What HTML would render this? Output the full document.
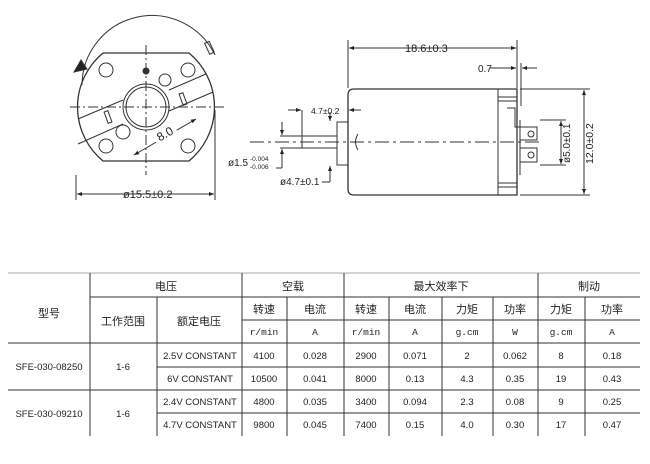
<!DOCTYPE html>
<html><head><meta charset="utf-8"><style>
html,body{margin:0;padding:0;background:#fff;}
body{width:650px;height:464px;position:relative;overflow:hidden;font-family:"Liberation Sans","Noto Sans CJK SC",sans-serif;}
svg{position:absolute;left:0;top:0;}
.t{font-size:9.5px;fill:#222;}
.c{font-size:11px;fill:#222;text-anchor:middle;}
.m{font-family:"Liberation Mono",monospace;font-size:9.5px;fill:#222;text-anchor:middle;}
.n{font-size:9.5px;fill:#222;text-anchor:middle;}
</style></head><body>
<svg width="650" height="464" viewBox="0 0 650 464">
<defs><marker id="a" viewBox="0 0 10 10" refX="10" refY="5" markerWidth="7" markerHeight="5" orient="auto-start-reverse"><path d="M0,1 L10,5 L0,9z" fill="#222"/></marker></defs>
<g stroke="#333" fill="none" stroke-width="1">
<path d="M103,53 L189,53 A70,70 0 0 1 189,161 L103,161 A70,70 0 0 1 103,53" stroke-width="1.3"/>
<path d="M82,85 A70,70 0 0 1 215,55" />
<path d="M81,60 L74,72 L87,69z" fill="#222"/>
<rect x="207" y="42" width="5" height="12" transform="rotate(-25 209 48)"/>
<line x1="70" y1="107" x2="225" y2="107" stroke-dasharray="10,3,2,3"/>
<line x1="146" y1="45" x2="146" y2="175" stroke-dasharray="10,3,2,3"/>
<circle cx="146" cy="107" r="23"/><circle cx="146" cy="107" r="20"/>
<path d="M78,119 L123,100 M78,144 L123,124 M169,111 L213,92 M169,90 L206,74"/>
<circle cx="106" cy="70" r="7"/><circle cx="188" cy="70" r="7"/><circle cx="106" cy="146" r="7"/><circle cx="188" cy="146" r="7"/>
<circle cx="165" cy="80" r="6"/><circle cx="123" cy="132" r="7"/>
<circle cx="146" cy="71" r="3" fill="#333"/>
<rect x="181" y="93" width="4" height="12" transform="rotate(-20 183 99)"/>
<rect x="106" y="111" width="4" height="12" transform="rotate(-20 108 117)"/>
<line x1="134" y1="155" x2="196" y2="119" marker-start="url(#a)" marker-end="url(#a)"/>
<line x1="76" y1="175" x2="76" y2="200"/><line x1="215" y1="110" x2="215" y2="200"/>
<line x1="77" y1="194" x2="214" y2="194" marker-start="url(#a)" marker-end="url(#a)"/>
<path d="M354,89 L517,89 L517,195 L354,195 Q348,195 348,189 L348,95 Q348,89 354,89z" stroke-width="1.3"/>
<line x1="498" y1="89" x2="498" y2="195"/>
<path d="M498,97 L517,97 M498,101 L517,101 M498,183 L517,183 M498,187 L517,187"/>
<rect x="337" y="122" width="11" height="43"/>
<line x1="280" y1="136" x2="337" y2="136"/><line x1="280" y1="148" x2="337" y2="148"/>
<path d="M358,134 Q353,142 358,150"/>
<line x1="250" y1="142" x2="540" y2="142" stroke-dasharray="14,4,3,4"/>
<path d="M507,108 L515,108 L515,127 L537,127 L537,140 L520,140 L520,127 M520,148 L537,148 L537,162 L520,162z"/>
<circle cx="531" cy="134" r="3"/><circle cx="531" cy="155" r="3"/>
<line x1="520" y1="120" x2="520" y2="175"/>
<line x1="348" y1="40" x2="348" y2="88"/><line x1="517" y1="40" x2="517" y2="88"/>
<line x1="349" y1="48" x2="516" y2="48" marker-start="url(#a)" marker-end="url(#a)"/>
<line x1="521" y1="63" x2="521" y2="106"/>
<line x1="490" y1="68" x2="516" y2="68" marker-end="url(#a)"/><line x1="537" y1="68" x2="522" y2="68" marker-end="url(#a)"/>
<line x1="520" y1="89" x2="590" y2="89"/><line x1="520" y1="195" x2="590" y2="195"/>
<line x1="584" y1="90" x2="584" y2="194" marker-start="url(#a)" marker-end="url(#a)"/>
<line x1="540" y1="120" x2="566" y2="120"/><line x1="540" y1="165" x2="566" y2="165"/>
<line x1="561" y1="121" x2="561" y2="164" marker-start="url(#a)" marker-end="url(#a)"/>
<line x1="302" y1="110" x2="302" y2="148"/>
<line x1="288" y1="110" x2="301" y2="110" marker-end="url(#a)"/><line x1="361" y1="110" x2="349" y2="110" marker-end="url(#a)"/>
<line x1="282" y1="122" x2="282" y2="135" marker-end="url(#a)"/><line x1="282" y1="162" x2="282" y2="149" marker-end="url(#a)"/>
<line x1="282" y1="162" x2="282" y2="168"/><line x1="276" y1="168" x2="282" y2="168"/>
<line x1="330" y1="112" x2="330" y2="121" marker-end="url(#a)"/><line x1="330" y1="176" x2="330" y2="166" marker-end="url(#a)"/>
<line x1="330" y1="176" x2="330" y2="182"/><line x1="322" y1="182" x2="330" y2="182"/>
</g>
<rect x="153" y="127" width="24" height="14" fill="#fff" transform="rotate(-30 165 134)"/>
<g class="t">
<text x="165" y="138" text-anchor="middle" transform="rotate(-30 165 134)" font-size="12">8.0</text>
<text x="123" y="198" font-size="11">ø15.5±0.2</text>
<text x="405" y="52" font-size="11">18.6±0.3</text>
<text x="478" y="72" font-size="10">0.7</text>
<text x="311" y="114" font-size="8.5">4.7±0.2</text>
<text x="228" y="166" font-size="10">ø1.5</text><text x="250" y="161" font-size="6.5">-0.004</text><text x="250" y="169" font-size="6.5">-0.006</text>
<text x="280" y="185" font-size="10">ø4.7±0.1</text>
<text transform="translate(570 163) rotate(-90)" font-size="10">ø5.0±0.1</text>
<text transform="translate(593 164) rotate(-90)" font-size="10.5">12.0±0.2</text>
</g>
<g stroke="#333" stroke-width="1" fill="none">
<line x1="8" y1="273" x2="640" y2="273" stroke="#aaa"/>
<line x1="90" y1="273" x2="90" y2="436"/><line x1="242" y1="273" x2="242" y2="436"/><line x1="344" y1="273" x2="344" y2="436"/><line x1="538" y1="273" x2="538" y2="436"/>
<line x1="157" y1="297" x2="157" y2="436"/>
<line x1="287" y1="297" x2="287" y2="436"/><line x1="389" y1="297" x2="389" y2="436"/><line x1="442" y1="297" x2="442" y2="436"/><line x1="493" y1="297" x2="493" y2="436"/><line x1="585" y1="297" x2="585" y2="436"/>
<line x1="90" y1="297" x2="640" y2="297"/>
<line x1="242" y1="320" x2="640" y2="320"/>
<line x1="8" y1="343" x2="640" y2="343"/>
<line x1="157" y1="367" x2="640" y2="367"/>
<line x1="8" y1="390" x2="640" y2="390"/>
<line x1="157" y1="413" x2="640" y2="413"/>
</g>
<g>
<text class="c" x="49" y="317">型号</text>
<text class="c" x="166" y="290">电压</text><text class="c" x="293" y="290">空载</text><text class="c" x="441" y="290">最大效率下</text><text class="c" x="589" y="290">制动</text>
<text class="c" x="123" y="325">工作范围</text><text class="c" x="199" y="325">额定电压</text>
<text class="c" x="264" y="313">转速</text><text class="c" x="315" y="313">电流</text><text class="c" x="366" y="313">转速</text><text class="c" x="415" y="313">电流</text><text class="c" x="467" y="313">力矩</text><text class="c" x="515" y="313">功率</text><text class="c" x="561" y="313">力矩</text><text class="c" x="612" y="313">功率</text>
<text class="m" x="264" y="335">r/min</text><text class="m" x="315" y="335">A</text><text class="m" x="366" y="335">r/min</text><text class="m" x="415" y="335">A</text><text class="m" x="467" y="335">g.cm</text><text class="m" x="515" y="335">W</text><text class="m" x="561" y="335">g.cm</text><text class="m" x="612" y="335">A</text>
<text class="n" x="49" y="370">SFE-030-08250</text><text class="n" x="123" y="370">1-6</text>
<text class="n" x="49" y="417">SFE-030-09210</text><text class="n" x="123" y="417">1-6</text>
</g>
<g class="n">
<text x="200" y="359">2.5V CONSTANT</text><text x="264" y="359">4100</text><text x="315" y="359">0.028</text><text x="366" y="359">2900</text><text x="415" y="359">0.071</text><text x="467" y="359">2</text><text x="515" y="359">0.062</text><text x="561" y="359">8</text><text x="612" y="359">0.18</text>
<text x="200" y="382">6V CONSTANT</text><text x="264" y="382">10500</text><text x="315" y="382">0.041</text><text x="366" y="382">8000</text><text x="415" y="382">0.13</text><text x="467" y="382">4.3</text><text x="515" y="382">0.35</text><text x="561" y="382">19</text><text x="612" y="382">0.43</text>
<text x="200" y="405">2.4V CONSTANT</text><text x="264" y="405">4800</text><text x="315" y="405">0.035</text><text x="366" y="405">3400</text><text x="415" y="405">0.094</text><text x="467" y="405">2.3</text><text x="515" y="405">0.08</text><text x="561" y="405">9</text><text x="612" y="405">0.25</text>
<text x="200" y="428">4.7V CONSTANT</text><text x="264" y="428">9800</text><text x="315" y="428">0.045</text><text x="366" y="428">7400</text><text x="415" y="428">0.15</text><text x="467" y="428">4.0</text><text x="515" y="428">0.30</text><text x="561" y="428">17</text><text x="612" y="428">0.47</text>
</g>
</svg>
</body></html>
